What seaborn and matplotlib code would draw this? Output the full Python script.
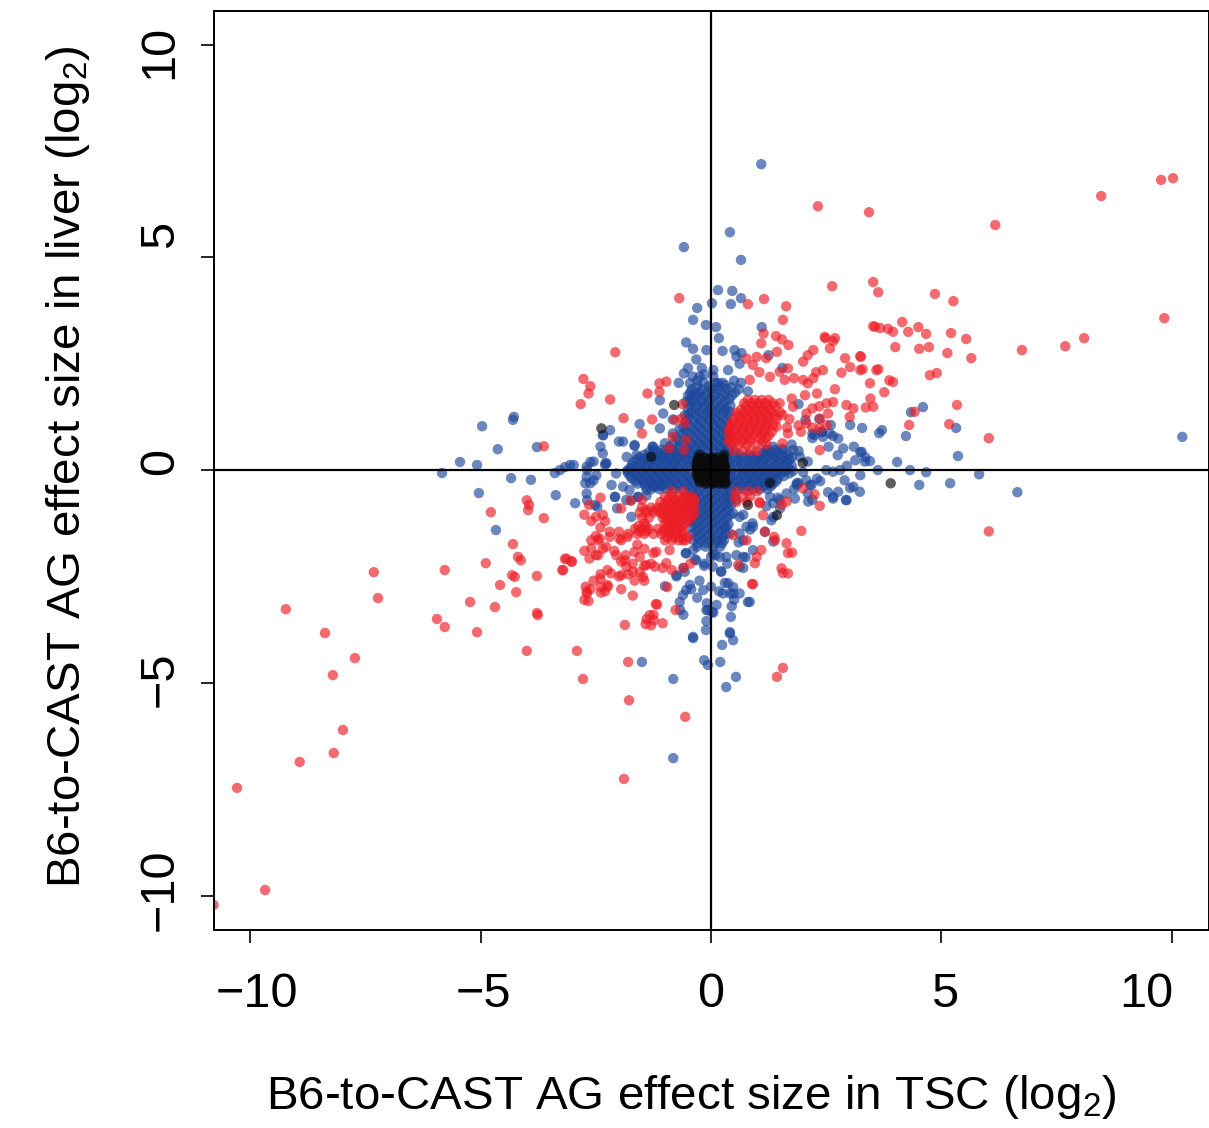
import pandas as pd
import matplotlib
matplotlib.use("Agg")
import matplotlib.pyplot as plt
from matplotlib.transforms import ScaledTranslation
import seaborn as sns

sns.set_style("ticks")
plt.rcParams['font.family'] = ['Liberation Sans', 'DejaVu Sans']
plt.rcParams['mathtext.fontset'] = 'custom'
plt.rcParams['mathtext.rm'] = 'Liberation Sans'
plt.rcParams['text.color'] = 'black'
plt.rcParams['xtick.labelcolor'] = 'black'
plt.rcParams['ytick.labelcolor'] = 'black'

tick_values = [-10, -5, 0, 5, 10]
tick_labels = ['\u221210', '\u22125', '0', '5', '10']
x_label = 'B6-to-CAST AG effect size in TSC (log$_2$)'
y_label = 'B6-to-CAST AG effect size in liver (log$_2$)'

# dense part of the blue cloud, y level -> x values along that level
blue_rows = {
    2.05: [-0.15, 0.1, 0.25],
    1.97: [-0.3, -0.05, 0.18],
    1.9: [-0.42, -0.2, 0.0, 0.15, 0.35],
    1.82: [-0.45, -0.25, -0.08, 0.1, 0.3, 0.52],
    1.75: [-0.5, -0.3, -0.12, 0.08, 0.28, 0.45],
    1.67: [-0.42, -0.22, -0.02, 0.2, 0.4],
    1.6: [-0.55, -0.38, -0.2, -0.05, 0.12, 0.3],
    1.52: [-0.45, -0.28, -0.1, 0.08, 0.25, 0.42],
    1.45: [-0.5, -0.35, -0.18, 0.0, 0.18, 0.32],
    1.37: [-0.42, -0.25, -0.08, 0.1, 0.28, 0.42],
    1.3: [-0.5, -0.33, -0.15, 0.02, 0.2, 0.38],
    1.22: [-0.48, -0.28, -0.08, 0.1, 0.28],
    1.15: [-0.55, -0.38, -0.2, -0.02, 0.15, 0.34],
    1.07: [-0.5, -0.3, -0.12, 0.05, 0.22, 0.4],
    1.0: [-0.6, -0.42, -0.25, -0.08, 0.1, 0.28],
    0.92: [-0.55, -0.35, -0.18, 0.0, 0.18, 0.34],
    0.85: [-0.62, -0.45, -0.28, -0.1, 0.08, 0.25, 0.4],
    0.77: [-0.75, -0.55, -0.38, -0.2, -0.02, 0.15, 0.32],
    0.7: [-0.7, -0.5, -0.32, -0.15, 0.02, 0.2, 0.36],
    0.62: [-0.82, -0.6, -0.42, -0.25, -0.08, 0.1, 0.28],
    0.55: [-0.9, -0.7, -0.52, -0.35, -0.18, 0.0, 0.18, 0.34],
    0.48: [-1.25, -1.08, -0.9, -0.72, -0.55, -0.35, -0.15, 0.05, 0.22, 0.4, 1.22, 1.4],
    0.42: [-1.35, -1.15, -1.0, -0.8, -0.62, -0.45, -0.25, -0.08, 0.1, 0.3, 0.5, 1.15, 1.3, 1.45],
    0.36: [-1.45, -1.28, -1.1, -0.92, -0.75, -0.58, -0.4, 0.4, 0.62, 0.82, 1.0, 1.18, 1.35, 1.52, 1.68],
    0.3: [-1.55, -1.38, -1.2, -1.02, -0.85, -0.68, -0.5, -0.32, 0.35, 0.55, 0.72, 0.9, 1.08, 1.25, 1.42, 1.6, 1.75],
    0.24: [-1.62, -1.45, -1.28, -1.1, -0.92, -0.75, -0.55, -0.38, 0.38, 0.6, 0.8, 0.98, 1.15, 1.35, 1.52, 1.7],
    0.18: [-1.7, -1.52, -1.35, -1.18, -1.0, -0.82, -0.65, -0.45, 0.4, 0.58, 0.78, 0.95, 1.12, 1.3, 1.48, 1.65],
    0.11: [-1.72, -1.55, -1.38, -1.2, -1.02, -0.85, -0.68, -0.48, 0.42, 0.65, 0.85, 1.02, 1.22, 1.4, 1.58, 1.75],
    0.05: [-1.75, -1.6, -1.42, -1.25, -1.08, -0.9, -0.72, -0.52, 0.42, 0.6, 0.8, 0.98, 1.15, 1.32, 1.5, 1.68],
    -0.02: [-1.82, -1.65, -1.48, -1.3, -1.12, -0.95, -0.78, -0.58, 0.45, 0.68, 0.88, 1.08, 1.25, 1.42, 1.6, 1.78],
    -0.08: [-1.8, -1.65, -1.48, -1.3, -1.12, -0.95, -0.75, -0.55, 0.42, 0.62, 0.82, 1.0, 1.18, 1.35, 1.52, 1.7],
    -0.14: [-1.75, -1.58, -1.42, -1.25, -1.08, -0.9, -0.7, -0.5, 0.45, 0.66, 0.86, 1.05, 1.22, 1.4, 1.58],
    -0.2: [-1.72, -1.55, -1.38, -1.2, -1.02, -0.85, -0.65, -0.45, 0.4, 0.6, 0.78, 0.95, 1.12, 1.3, 1.45],
    -0.26: [-1.65, -1.48, -1.32, -1.15, -0.98, -0.8, -0.6, -0.42, 0.38, 0.56, 0.74, 0.92, 1.1, 1.28, 1.42],
    -0.32: [-1.6, -1.45, -1.28, -1.1, -0.92, -0.75, -0.55, -0.38, 0.35, 0.52, 0.7, 0.88, 1.05, 1.2, 1.35],
    -0.38: [-1.42, -1.25, -1.08, -0.9, -0.72, -0.5, -0.3, -0.1, 0.1, 0.3, 0.48, 0.65, 0.82, 1.0, 1.15, 1.3],
    -0.45: [-1.3, -1.12, -0.95, -0.78, -0.6, -0.42, -0.25, -0.05, 0.15, 0.35, 0.55, 0.72, 0.9, 1.05, 1.22],
    -0.52: [-0.45, -0.28, -0.1, 0.08, 0.26, 0.42],
    -0.6: [-0.5, -0.35, -0.18, 0.0, 0.18, 0.35],
    -0.67: [-0.42, -0.25, -0.08, 0.1, 0.28, 0.42],
    -0.75: [-0.5, -0.32, -0.15, 0.02, 0.2, 0.38],
    -0.82: [-0.4, -0.22, -0.05, 0.12, 0.3, 0.44],
    -0.9: [-0.48, -0.3, -0.12, 0.05, 0.22, 0.38],
    -0.97: [-0.38, -0.2, -0.02, 0.15, 0.32],
    -1.05: [-0.45, -0.28, -0.1, 0.08, 0.25, 0.42],
    -1.12: [-0.36, -0.18, 0.0, 0.18, 0.35],
    -1.2: [-0.45, -0.26, -0.08, 0.1, 0.28],
    -1.27: [-0.35, -0.16, 0.02, 0.2, 0.38],
    -1.35: [-0.42, -0.25, -0.06, 0.12, 0.3],
    -1.42: [-0.32, -0.14, 0.04, 0.22],
    -1.5: [-0.4, -0.22, -0.04, 0.15, 0.32],
    -1.57: [-0.3, -0.12, 0.06, 0.24],
    -1.65: [-0.38, -0.2, -0.02, 0.14, 0.28],
    -1.72: [-0.28, -0.1, 0.08, 0.24],
    -1.8: [-0.3, -0.12, 0.05, 0.2],
}

# scattered blue points
blue_points = [
    (1.09, 7.19), (-0.59, 5.24), (0.41, 5.59), (0.65, 4.94), (0.15, 4.23), (0.46, 4.21), (0.65, 4.04),
    (0.43, 3.9), (0.02, 3.92), (-0.3, 3.81), (-0.39, 3.53), (-0.11, 3.41), (0.11, 3.36), (1.1, 3.36),
    (10.23, 0.78), (6.65, -0.52), (5.82, -0.1), (5.36, 0.33), (5.32, 0.99), (5.19, -0.31), (4.52, -0.35),
    (4.6, 1.48), (4.34, 1.36), (4.23, 0.8), (4.67, -0.05), (4.04, 0.19), (4.32, 0.0), (3.62, 0.0),
    (3.71, 0.94), (3.65, 0.87), (3.24, 0.42), (3.45, 0.21), (3.24, -0.12), (3.02, -0.42), (2.93, -0.7),
    (2.65, -0.63), (2.54, -0.52), (2.37, -0.26), (2.8, 0.0), (3.13, 0.23), (2.6, 1.06), (2.41, 0.89),
    (2.24, 0.82), (2.05, 1.18), (3.02, 1.06), (3.28, 0.99), (-5.84, -0.07), (-5.45, 0.19), (-5.08, 0.12),
    (-5.04, -0.54), (-4.97, 1.03), (-4.63, 0.49), (-4.28, 1.25), (-4.3, 1.18), (-4.67, -1.41), (-3.78, 0.54),
    (-3.91, -0.23), (-4.34, -0.19), (-3.37, -0.59), (-3.39, -0.07), (-3.06, 0.12), (-3.17, 0.07),
    (-2.69, 0.0), (-2.62, 0.19), (-2.49, -0.12), (-2.62, -0.31), (-2.69, -0.71), (-2.3, 0.12), (-2.34, 0.82),
    (-2.19, 0.94), (-2.95, -0.78), (-2.52, -0.82), (-0.82, -6.77), (-0.82, -4.91), (-1.5, -4.51),
    (0.33, -5.1), (0.54, -4.86), (0.2, -4.51), (-0.15, -4.47), (-0.07, -4.58), (0.41, -3.81), (0.48, -4.0),
    (0.24, -4.11), (-0.39, -3.95), (-0.11, -3.76), (-0.07, -3.29), (-0.09, -3.13), (0.02, -3.34),
    (-0.67, -3.29), (-0.54, -2.82), (-0.46, -2.7), (0.41, -2.9), (0.48, -2.75),
    # closer to the centre
    (-0.54, 3.0), (-0.39, 2.85), (-0.32, 2.6), (-0.2, 2.4), (-0.59, 2.27), (-0.7, 2.05), (-0.46, 2.04),
    (-0.25, 2.2), (0.05, 2.35), (0.37, 2.35), (0.55, 2.67), (0.62, 2.5), (0.51, 2.82), (0.66, 2.75),
    (-0.1, 2.82), (0.17, 3.1), (0.25, 2.8), (-1.55, 1.08), (-1.11, 0.98), (-1.04, 1.33), (-1.11, 1.64),
    (-0.83, 1.19), (-2.0, 0.67), (-1.66, 0.59), (-1.27, 0.55), (-2.35, 0.82), (-2.4, 0.55), (-2.35, 0.39),
    (-2.55, 0.2), (-2.98, 0.12), (-3.28, 0.0), (-2.7, 0.08), (-2.29, 0.16), (-2.7, -0.16), (-2.73, -0.31),
    (-2.55, -0.24), (-2.16, -0.35), (-2.7, -0.55), (-2.47, -0.86),
    (-2.04, -0.9), (-2.08, -0.63), (-1.73, -0.71), (-1.58, -0.63), (-1.73, -1.1), (-1.4, -0.6),
    (1.25, 2.7), (1.55, 2.4), (1.9, 1.55), (2.4, 0.9), (2.65, 0.8), (2.35, 1.2),
    (3.1, 0.55), (2.75, 0.35), (2.95, 0.1), (3.35, 0.3), (2.5, 0.0), (2.1, 0.2), (2.0, -0.05), (2.3, -0.2),
    (2.15, -0.35), (1.9, -0.3), (1.8, -0.45), (2.1, -0.55), (2.2, -0.7), (1.75, 0.6), (1.55, 0.5), (1.9, 0.45),
    (2.55, 0.55), (2.2, 0.75), (1.45, -0.65), (1.5, -0.9), (1.2, -0.85), (1.35, -1.1), (0.9, -1.25), (0.85, -1.4),
    (0.7, -1.05), (0.6, -1.7), (0.75, -2.05), (0.55, -2.0), (0.35, -2.2), (0.1, -2.0),
    (-0.15, -2.25), (-0.35, -2.1), (-0.55, -1.95), (-0.6, -2.3), (-0.25, -2.6), (0.22, -2.38), (0.7, -2.3),
    (0.62, -2.9), (-0.3, -3.0), (0.18, -2.85), (0.3, -2.65), (-0.75, -2.5), (-0.6, -3.4), (0.45, -3.2),
    (0.8, -3.1), (-0.1, -3.55), (0.05, -3.35), (0.43, -3.45), (0.5, -3.05),
    # fuzz around the solid cross
    (-1.91, 0.67), (-1.66, 0.57), (-1.83, 0.31), (-1.62, 0.35), (-1.26, 0.55), (-1.0, 0.63), (-0.83, 0.86),
    (-0.68, 0.98), (-0.57, 1.29), (-0.46, 1.65), (-0.36, 1.8), (-0.5, 2.4), (-0.4, 2.2), (-0.3, 2.1), (-0.15, 2.25),
    (0.05, 2.2), (0.15, 2.05), (0.3, 2.0), (0.5, 2.1), (0.65, 2.05), (0.6, 1.9), (0.8, 1.85), (0.45, 1.95),
    (-2.27, 0.16), (-1.8, 0.0), (-2.06, -0.08), (-1.91, -0.39), (-1.77, -0.47), (-2.09, -0.63), (-1.84, -0.7),
    (-1.59, -0.63), (-1.4, -0.47), (-1.22, -0.39), (-1.08, -0.35), (0.55, -0.7), (0.62, -1.1), (0.48, -1.02),
    (0.77, -1.33), (0.91, -1.33), (0.62, -1.49), (0.41, -1.49), (0.33, -1.33), (1.35, -0.78), (1.28, -0.63),
    (1.49, -0.7), (1.64, -0.55), (1.86, -0.31), (2.07, -0.24), (2.18, -0.35), (1.93, 0.31), (1.78, 0.47),
    (1.57, 0.47), (1.35, 0.55), (1.2, 0.47), (2.2, 0.86), (2.43, 0.78), (2.58, 0.86), (2.76, 0.74), (2.87, 0.51),
    (3.27, 0.43), (3.34, 0.2), (2.65, -0.04), (2.9, -0.24), (3.09, -0.39), (3.23, -0.51), (2.94, -0.71),
    (2.65, -0.67), (2.76, -0.51), (2.11, -0.74), (1.82, -0.67), (1.86, -0.35), (-0.54, -1.96), (-0.39, -1.88),
    (0.04, -1.96), (0.19, -2.04), (-0.32, -2.12), (-0.14, -2.2), (0.0, -2.04), (-0.75, -2.47), (-0.57, -2.39),
    (0.04, -2.27), (0.22, -2.39), (0.33, -2.04), (0.7, -2.04), (0.62, -2.27), (-0.43, -2.8), (-0.17, -2.82),
    (0.0, -2.74), (0.26, -2.9), (0.37, -2.66), (0.48, -2.9), (0.12, -3.17), (-0.1, -3.29), (-0.39, -3.92),
    (0.41, -3.84), (0.84, -3.1), (-0.68, -3.1), (-0.61, -2.94), (-1.0, -2.73), (0.91, -1.88), (0.7, -1.65),
    (1.35, -1.68), (1.17, -1.45), (1.31, -1.18),
]

# dense red clusters, y level -> x values
red_rows = {
    1.65: [0.8, 0.95, 1.1, 1.25],
    1.57: [0.72, 0.88, 1.03, 1.18, 1.34],
    1.5: [0.75, 0.9, 1.05, 1.2, 1.4],
    1.42: [0.65, 0.8, 0.96, 1.12, 1.28],
    1.35: [0.55, 0.72, 0.88, 1.02, 1.18, 1.32, 1.5],
    1.27: [0.6, 0.76, 0.92, 1.08, 1.24, 1.4],
    1.2: [0.5, 0.65, 0.8, 0.95, 1.1, 1.25, 1.42],
    1.12: [0.45, 0.6, 0.76, 0.92, 1.08, 1.24],
    1.05: [0.42, 0.58, 0.72, 0.88, 1.02, 1.2, 1.35],
    0.97: [0.4, 0.55, 0.7, 0.86, 1.02, 1.18],
    0.9: [0.38, 0.52, 0.68, 0.84, 1.0, 1.15, 1.32],
    0.82: [0.42, 0.58, 0.75, 0.92, 1.1, 1.26],
    0.75: [0.4, 0.55, 0.7, 0.86, 1.05, 1.2],
    0.67: [0.38, 0.52, 0.68, 0.85, 1.12],
    0.6: [0.45, 0.6, 0.78, 1.0, 1.2],
    0.45: [0.5, 0.7, 0.85, 1.0],
    -0.5: [-0.85, -0.6, 0.55, 0.8, 1.0],
    -0.62: [-1.0, -0.85, -0.7, -0.55, -0.42, 0.52, 0.68, 0.85],
    -0.68: [-0.92, -0.78, -0.62, -0.48, -0.36],
    -0.75: [-1.1, -0.95, -0.8, -0.65, -0.5, -0.36, 0.55, 0.78, 1.05],
    -0.82: [-1.02, -0.88, -0.72, -0.58, -0.42],
    -0.88: [-1.5, -1.3, -1.15, -1.0, -0.85, -0.7, -0.55, -0.38],
    -0.94: [-1.42, -1.22, -1.08, -0.92, -0.78, -0.62, -0.46],
    -1.0: [-1.55, -1.4, -1.25, -1.1, -0.95, -0.8, -0.65, -0.5, -0.35],
    -1.06: [-1.02, -0.88, -0.72, -0.56, -0.42],
    -1.12: [-1.5, -1.35, -1.05, -0.9, -0.75, -0.6, -0.42],
    -1.18: [-0.96, -0.82, -0.66, -0.5],
    -1.25: [-1.45, -1.0, -0.85, -0.7, -0.55],
    -1.32: [-1.58, -1.42, -0.92, -0.78, -0.62],
    -1.38: [-1.65, -1.5, -1.35, -1.15, -1.0, -0.85, -0.7],
    -1.44: [-1.55, -1.4, -1.05, -0.92, -0.76, -0.62],
    -1.5: [-1.6, -1.45, -1.25, -1.08, -0.9, -0.75, -0.6],
    -1.58: [-0.96, -0.8, -0.65, -0.5],
    -1.65: [-1.0, -0.85, -0.7, -0.55],
}

# scattered red points
red_points = [
    (-10.8, -10.22), (-9.68, -9.87), (-10.29, -7.47), (-8.93, -6.86), (-8.19, -6.65), (-7.99, -6.11),
    (-8.21, -4.82), (-7.73, -4.42), (-8.38, -3.83), (-9.23, -3.27), (-7.23, -3.01), (-7.32, -2.4),
    (-5.95, -3.5), (-5.78, -3.69), (-5.78, -2.35), (-5.08, -3.81), (-5.23, -3.1), (-4.69, -3.22),
    (-4.89, -2.19), (-4.58, -2.7), (-4.26, -2.51), (-4.32, -2.47), (-4.23, -2.87), (-3.78, -2.49),
    (-3.78, -3.36), (-3.76, -3.41), (-4.0, -4.25), (-2.91, -4.25), (-2.78, -4.91), (-1.8, -4.51), (-1.78, -5.41),
    (-1.89, -7.26), (-0.56, -5.8), (1.43, -4.86), (1.56, -4.65), (-1.87, -3.64), (-4.78, -0.99),
    (-4.3, -1.74), (-4.19, -2.04), (-4.13, -2.12), (-4.0, -0.71), (-3.95, -0.82), (-3.97, -0.94),
    (-3.63, -1.13), (-3.63, 0.56), (-3.17, -2.09), (-3.02, -2.14), (-3.21, -2.35),
    (10.03, 6.86), (9.77, 6.82), (8.47, 6.44), (9.84, 3.57), (8.1, 3.1), (7.69, 2.91), (6.75, 2.82),
    (6.17, 5.76), (2.32, 6.2), (3.43, 6.06), (2.63, 4.32), (3.52, 4.42), (3.63, 4.18), (4.86, 4.14),
    (5.26, 3.97), (-0.69, 4.04), (0.8, 3.9), (1.15, 4.02), (1.63, 3.85), (1.56, 3.53), (3.52, 3.38),
    (3.67, 3.34), (3.84, 3.32), (3.95, 3.25), (4.15, 3.48), (4.28, 3.25), (4.0, 2.89), (4.5, 3.36),
    (4.67, 3.2), (4.52, 2.85), (5.21, 3.22), (5.54, 3.08), (5.13, 2.75), (5.65, 2.63), (4.73, 2.89),
    (4.9, 2.28), (4.75, 2.23), (4.42, 1.37), (4.3, 1.06), (5.17, 1.08), (5.34, 1.53), (6.03, 0.75),
    (6.03, -1.44), (3.24, 2.68), (3.02, 2.42), (3.63, 2.37), (3.59, 2.35), (3.87, 2.11), (3.95, 2.07),
    (3.76, 1.83), (3.24, 2.35), (2.91, 2.63), (2.48, 3.1), (2.65, 3.03),
    # upper right near the cluster
    (0.77, 2.62), (0.99, 2.66), (1.2, 2.63), (0.91, 2.47), (1.09, 2.98), (1.14, 3.21), (1.41, 3.15),
    (1.54, 3.07), (1.68, 2.94), (1.43, 2.78), (0.84, 2.12), (1.05, 2.3), (1.28, 2.19), (1.49, 2.31),
    (1.67, 2.39), (1.6, 2.12), (1.8, 2.16), (2.0, 2.12), (2.1, 2.04), (2.22, 2.16), (2.43, 2.35), (2.28, 2.3),
    (2.0, 2.55), (2.1, 2.7), (2.22, 2.82), (2.47, 3.13), (2.69, 3.1), (2.58, 2.86), (2.83, 2.29), (2.69, 1.9),
    (2.3, 1.8), (2.04, 1.76), (1.75, 1.68), (1.49, 1.57), (1.78, 1.49), (2.07, 1.33), (2.51, 1.57), (2.54, 1.33),
    (2.36, 1.21), (2.51, 1.06), (2.36, 0.98), (2.07, 1.1), (1.67, 0.86), (1.42, 1.02), (1.55, 0.63), (2.94, 1.53),
    (3.09, 1.45), (3.01, 1.25), (3.36, 1.47), (3.52, 1.49), (3.46, 1.68), (3.25, 2.66), (3.29, 2.37), (3.45, 2.04),
    (3.56, 3.37), (2.36, 0.47), (1.55, 1.3), (1.9, 1.05), (1.7, 1.2), (2.2, 1.45), (2.35, 1.5), (2.65, 1.6),
    (1.95, 0.9), (2.2, 1.0), (1.65, 1.0),
    # upper left
    (-2.08, 2.77), (-2.77, 2.14), (-2.62, 1.97), (-2.66, 1.8), (-2.83, 1.55), (-2.19, 1.66), (-1.9, 1.22),
    (-1.38, 1.8), (-1.12, 2.04), (-0.97, 2.08), (-1.12, 1.84), (-1.28, 1.19), (-1.5, 0.86), (-0.62, 1.55),
    (-0.79, 1.18), (-0.64, 1.21), (-0.57, 1.1), (-0.83, 0.78), (-0.54, 0.71), (-0.91, 0.51), (-0.59, 0.47),
    # lower left
    (-2.75, -1.05), (-2.65, -0.82), (-2.4, -0.65), (-2.35, -1.05),
    (-2.5, -1.1), (-2.3, -1.2), (-2.4, -1.35), (-2.6, -1.2), (-2.5, -1.55), (-2.2, -1.45), (-2.0, -1.45),
    (-1.95, -1.65), (-1.8, -1.5), (-2.45, -1.65), (-2.6, -1.65), (-2.75, -1.9), (-2.5, -2.0), (-2.35, -1.85),
    (-2.1, -1.9), (-1.95, -2.15), (-1.85, -2.0), (-1.7, -2.2), (-1.45, -2.25), (-1.3, -2.2), (-1.25, -1.95),
    (-1.45, -1.85), (-1.6, -1.75), (-1.05, -2.3), (-0.85, -2.35), (-1.55, -2.4), (-1.8, -2.45), (-2.0, -2.5),
    (-2.25, -2.35), (-2.4, -2.45), (-2.55, -2.6), (-2.7, -2.85), (-2.75, -3.05), (-2.4, -2.75), (-2.25, -2.7),
    (-2.3, -2.85), (-2.62, -2.8), (-1.95, -2.8), (-1.7, -2.95), (-1.45, -2.6), (-1.4, -3.5), (-1.25, -3.4),
    (-1.2, -3.15), (-0.95, -2.75), (-1.05, -3.6), (-1.3, -3.65), (-0.6, -2.3), (-0.45, -2.2), (-1.5, -0.7),
    (-1.95, -0.9), (-1.75, -0.72),
    (-2.42, -1.61), (-2.2, -1.57), (-1.99, -1.61), (-1.81, -1.57), (-2.28, -1.8), (-2.6, -1.84), (-2.45, -2.0),
    (-2.64, -2.08), (-3.14, -2.08), (-3.03, -2.16), (-3.23, -2.35), (-2.17, -2.43), (-1.95, -2.47), (-1.7, -2.39),
    (-1.48, -2.51), (-1.66, -2.6), (-2.4, -2.55), (-2.24, -2.74), (-2.72, -2.74), (-2.69, -2.9), (-2.66, -3.08),
    (-2.39, -2.88), (-1.22, -2.27), (-0.97, -2.19), (-1.41, -2.23), (-1.66, -1.92), (-1.55, -2.04), (-1.88, -2.12),
    (-1.84, -2.27), (-2.06, -2.0), (-1.19, -1.92), (-0.9, -1.88), (-0.61, -1.65), (-0.77, -3.29), (-1.17, -3.16),
    (-1.33, -3.41), (-1.24, -3.53), (-1.42, -3.62),
    # lower right
    (1.96, -1.43), (1.64, -1.72), (1.76, -1.94), (1.53, -2.31), (1.67, -2.43), (0.91, -2.68), (0.77, -1.65),
    (0.48, -1.53), (0.59, -2.23), (0.95, -2.19), (0.99, -2.04), (1.09, -1.88), (1.17, -1.45), (1.37, -1.57),
    (1.06, -0.78), (1.13, -1.06), (1.64, -0.74), (1.53, -0.82), (2.0, -0.43), (2.25, -0.57), (2.36, -0.84),
    (0.89, -2.68), (1.56, -2.42), (1.67, -1.95), (1.39, -1.65),
]

# the dark centre and the few dark points further out
black_rows = {
    0.36: [-0.25, 0.28],
    0.3: [-0.26, -0.14, 0.0, 0.12, 0.27],
    0.26: [-0.28, -0.15, 0.0, 0.1, 0.27],
    0.21: [-0.3, -0.2, -0.08, 0.05, 0.16, 0.26],
    0.16: [-0.3, -0.2, -0.08, 0.04, 0.16, 0.28],
    0.11: [-0.32, -0.22, -0.12, -0.02, 0.08, 0.18, 0.3],
    0.06: [-0.3, -0.2, -0.1, 0.0, 0.05, 0.1, 0.2, 0.3],
    0.01: [-0.32, -0.22, -0.12, -0.02, 0.04, 0.08, 0.18, 0.3],
    -0.04: [-0.3, -0.2, -0.1, 0.0, 0.06, 0.1, 0.2, 0.3],
    -0.09: [-0.32, -0.22, -0.12, -0.02, 0.04, 0.08, 0.18, 0.3],
    -0.14: [-0.28, -0.18, -0.08, 0.04, 0.09, 0.14, 0.26],
    -0.19: [-0.28, -0.16, -0.04, 0.03, 0.08, 0.2, 0.3],
    -0.24: [-0.25, -0.14, -0.02, 0.05, 0.1, 0.24],
    -0.29: [-0.24, -0.1, 0.06, 0.2, 0.32],
    -0.32: [-0.12, 0.04, 0.18, 0.3],
}
black_points = [
    (-2.38, 0.98), (3.9, -0.31), (-1.3, 0.31), (1.99, 0.17), (1.28, -0.3), (0.8, -0.82), (1.43, -1.06),
    (-0.8, 1.53), (0.05, 0.2), (0.07, 0.12), (0.03, -0.28), (0.08, 0.25), (0.06, -0.04), (0.1, -0.2),
]

# tick label shifts in the original artwork, in pixels
x_label_shift = [6, 3, 0, 3, -25]
y_label_shift = [6, 4, 9, 23, -7]

xs, ys, groups = [], [], []
for name, rows, points in [('blue', blue_rows, blue_points), ('red', red_rows, red_points),
                           ('black', black_rows, black_points)]:
    for y, row in rows.items():
        for x in row:
            xs.append(x)
            ys.append(y)
            groups.append(name)
    for x, y in points:
        xs.append(x)
        ys.append(y)
        groups.append(name)
df = pd.DataFrame({'tsc': xs, 'liver': ys, 'group': groups})

fig = plt.figure(figsize=(12.09, 11.28), dpi=100)
ax = fig.add_axes([214 / 1209, 1 - 930 / 1128, 995 / 1209, 919 / 1128])

palette = {'blue': '#1c479c', 'red': '#ec1c24', 'black': '#0a0a0a'}
sns.scatterplot(data=df, x='tsc', y='liver', hue='group', palette=palette, hue_order=['blue', 'red', 'black'],
                s=56, alpha=0.65, linewidth=0, legend=False, ax=ax, zorder=2)

ax.axhline(0, color='black', lw=1.6, zorder=3)
ax.axvline(0, color='black', lw=1.6, zorder=3)

ax.set_xlim(-10.79, 10.81)
ax.set_ylim(-10.81, 10.79)
ax.set_xticks(tick_values)
ax.set_yticks(tick_values)
ax.set_xticklabels(tick_labels, fontsize=35)
ax.set_yticklabels(tick_labels, fontsize=35, rotation=90, va='center')
ax.tick_params(axis='both', length=9.5, width=1.2, color='black')
ax.tick_params(axis='x', pad=21)
ax.tick_params(axis='y', pad=13)
for side in ax.spines.values():
    side.set_linewidth(1.4)
    side.set_color('black')
ax.set_xlabel('')
ax.set_ylabel('')

for lab, dx in zip(ax.get_xticklabels(), x_label_shift):
    lab.set_transform(lab.get_transform() + ScaledTranslation(dx / 100, 0, fig.dpi_scale_trans))
for lab, dy in zip(ax.get_yticklabels(), y_label_shift):
    lab.set_transform(lab.get_transform() + ScaledTranslation(0, dy / 100, fig.dpi_scale_trans))

fig.text(691 / 1209, 1 - 1097 / 1128, x_label, fontsize=34.2, ha='center', va='center')
fig.text(68 / 1209, 1 - 467 / 1128, y_label, fontsize=34.2, ha='center', va='center', rotation=90)

fig.savefig('out.png', dpi=100)
plt.close('all')
